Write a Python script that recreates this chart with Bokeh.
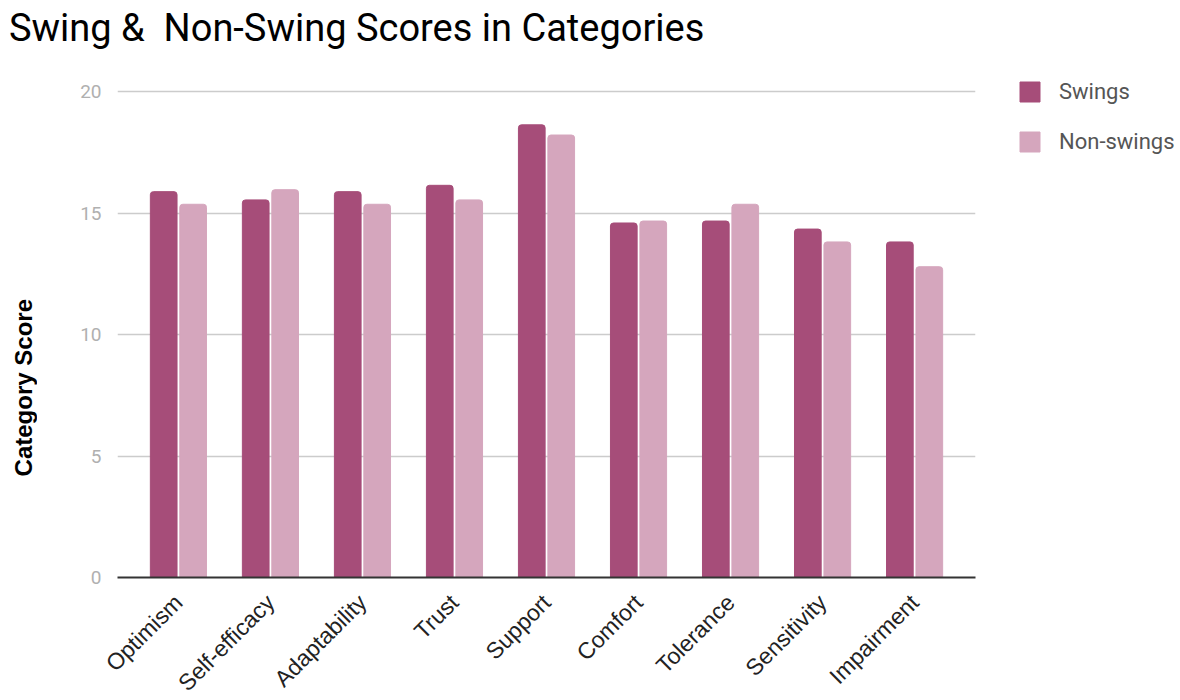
from bokeh.plotting import figure
from bokeh.layouts import column, row
from bokeh.models import (FactorRange, Range1d, Legend, LegendItem, ColumnDataSource,
                          FixedTicker, Div)
from bokeh.transform import dodge
from bokeh.embed import file_html
from bokeh.resources import INLINE

# Mean category scores for swing and non-swing groups
categories = ["Optimism", "Self-efficacy", "Adaptability", "Trust", "Support",
              "Comfort", "Tolerance", "Sensitivity", "Impairment"]
swings = [15.88, 15.54, 15.88, 16.14, 18.63, 14.59, 14.67, 14.34, 13.81]
non_swings = [15.36, 15.96, 15.36, 15.54, 18.21, 14.67, 15.36, 13.81, 12.79]
y_ticks = [0, 5, 10, 15, 20]

SWING_COLOR = "#a64d79"
NON_SWING_COLOR = "#d5a6bd"
FONT = "Roboto"
ARIAL = "Liberation Sans"
LEFT_STRIP = 48

source = ColumnDataSource(dict(cat=categories, swings=swings, non_swings=non_swings))

# Page heading
heading = Div(
    text="Swing &amp;&nbsp; Non-Swing Scores in Categories",
    width=1180, height=50, margin=0,
    styles={"font-family": "Roboto", "font-size": "38px", "color": "#000000",
            "line-height": "normal", "padding-left": "9px", "padding-top": "6px",
            "white-space": "nowrap", "box-sizing": "border-box"},
)

# Vertical caption for the score axis, set a little below the plot's centre
ylabel = Div(
    text=('<div style="position:absolute; left:10px; top:249px; '
          'writing-mode:vertical-rl; transform:rotate(180deg); '
          'font-family:\'Liberation Sans\'; font-weight:bold; font-size:24px; '
          'line-height:28px; color:#000000; white-space:nowrap;">Category Score</div>'),
    width=LEFT_STRIP, height=620, margin=0,
    styles={"position": "relative"},
)

# A little headroom above the top gridline leaves space for the legend row
p = figure(
    x_range=FactorRange(*categories, range_padding=0.036),
    y_range=Range1d(0, 20.66),
    frame_width=858, frame_height=502,
    min_border_left=117 - LEFT_STRIP, min_border_right=205, min_border_top=25,
    min_border_bottom=0,
    output_backend="svg", toolbar_location=None,
    background_fill_color="white", border_fill_color="white",
    outline_line_color=None, margin=0,
)

r1 = p.vbar(x=dodge("cat", -0.16, range=p.x_range), top="swings", width=0.29,
            source=source, color=SWING_COLOR, border_radius=[3, 3, 0, 0])
r2 = p.vbar(x=dodge("cat", 0.16, range=p.x_range), top="non_swings", width=0.29,
            source=source, color=NON_SWING_COLOR, border_radius=[3, 3, 0, 0])

# Y axis
p.yaxis.ticker = FixedTicker(ticks=y_ticks)
p.yaxis.axis_line_color = None
p.yaxis.major_tick_line_color = None
p.yaxis.minor_tick_line_color = None
p.yaxis.major_label_text_font = FONT
p.yaxis.major_label_text_font_size = "19px"
p.yaxis.major_label_text_color = "#b0b0b0"
p.yaxis.major_label_standoff = 10

# X axis
p.xaxis.axis_line_color = "#333333"
p.xaxis.axis_line_width = 2
p.xaxis.major_tick_line_color = None
p.xaxis.minor_tick_line_color = None
p.xaxis.major_label_orientation = 0.785398
p.xaxis.major_label_text_font = ARIAL
p.xaxis.major_label_text_font_size = "23px"
p.xaxis.major_label_text_color = "#222222"
p.xaxis.major_label_standoff = 15

p.xgrid.grid_line_color = None
p.ygrid.grid_line_color = "#cccccc"
p.ygrid.grid_line_width = 1.5

legend = Legend(
    items=[LegendItem(label="Swings", renderers=[r1]),
           LegendItem(label="Non-swings", renderers=[r2])],
    location=(42, 423),
    glyph_width=25, glyph_height=25,
    label_text_font=FONT, label_text_font_size="22px", label_text_color="#555555",
    label_standoff=17, spacing=25, padding=0, margin=0,
    border_line_color=None, background_fill_alpha=0,
)
p.add_layout(legend, "right")

layout = column(heading, row(ylabel, p, spacing=0), spacing=0)

with open("out.html", "w") as f:
    f.write(file_html(layout, INLINE))
